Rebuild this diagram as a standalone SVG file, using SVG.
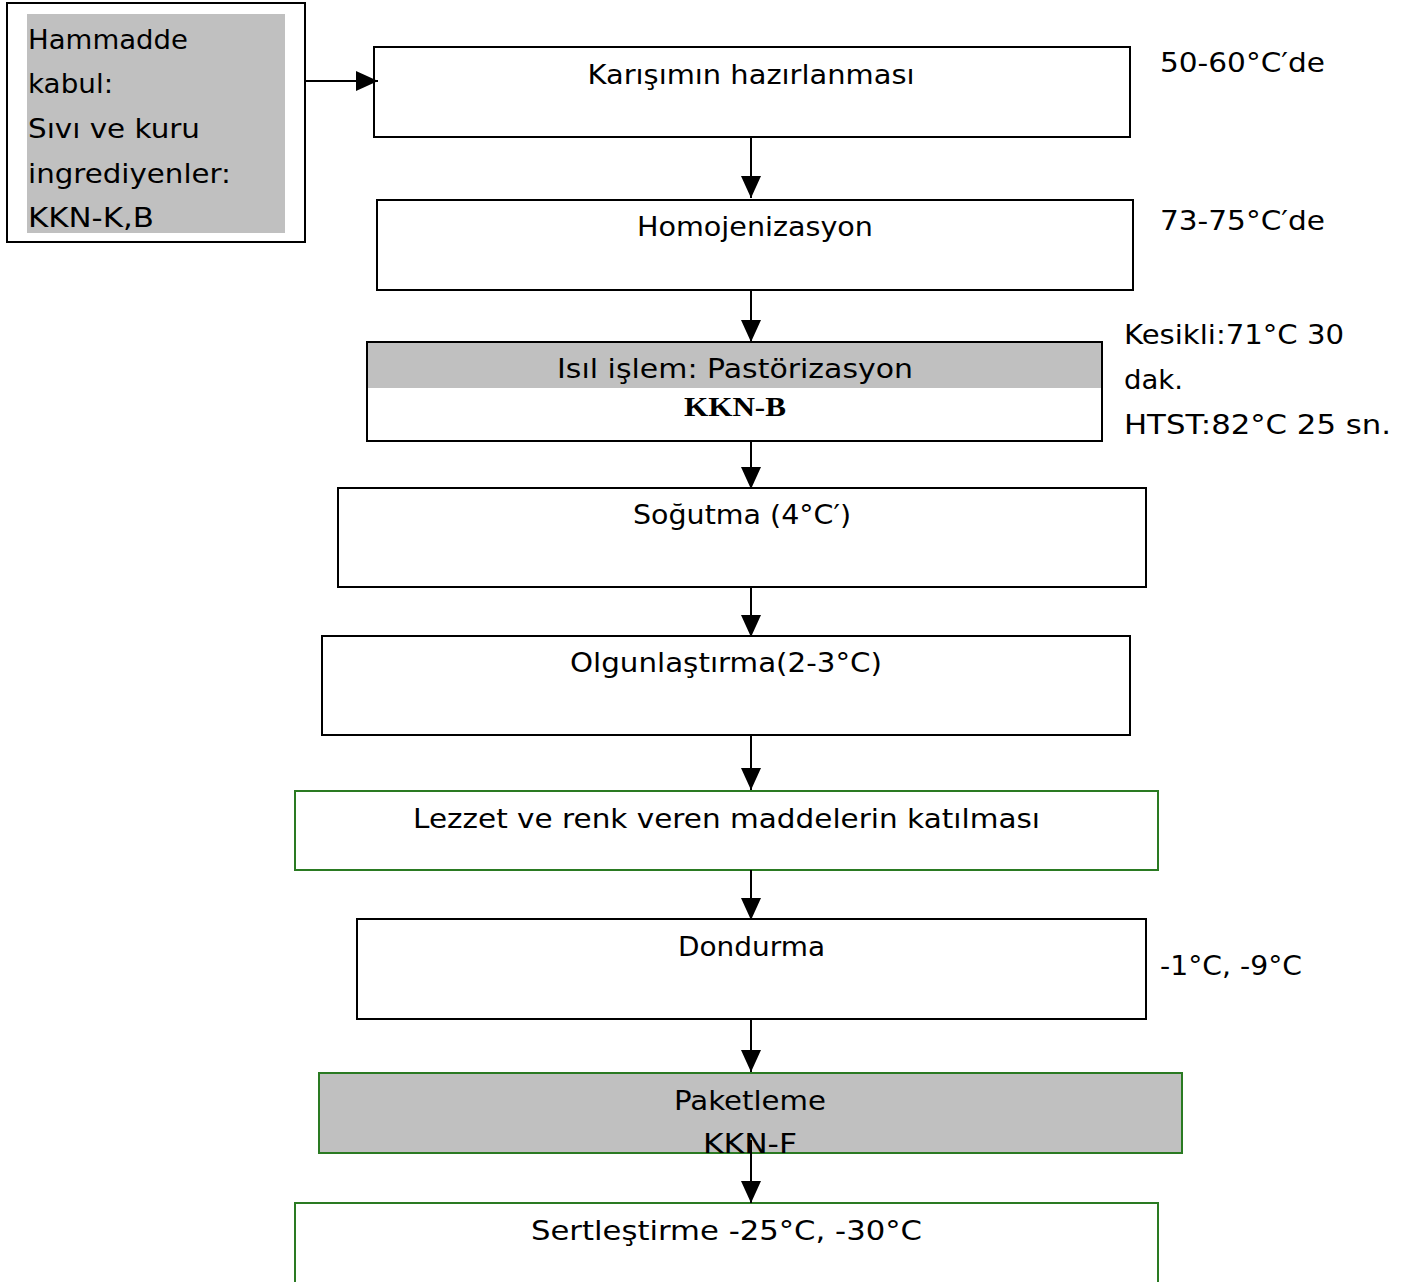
<svg xmlns="http://www.w3.org/2000/svg" width="1409" height="1282" viewBox="0 0 1409 1282">
  <style>
    .box { fill: #ffffff; stroke: #000000; stroke-width: 2; }
    .gbox { fill: #ffffff; stroke: #2a7a22; stroke-width: 2; }
    .shade { fill: #c0c0c0; }
    .t { font-family: "DejaVu Sans", "Liberation Sans", sans-serif; font-size: 27px; fill: #000000; }
    .c { text-anchor: middle; }
    .b { font-family: "Liberation Serif", serif; font-weight: bold; font-size: 27px; fill: #000000; }
    .line { stroke: #000000; stroke-width: 2; fill: none; }
  </style>
  <defs>
    <marker id="arrow" markerUnits="userSpaceOnUse" markerWidth="22" markerHeight="22" viewBox="0 0 22 22" refX="22" refY="11" orient="auto">
      <path d="M0,1 L22,11 L0,21 Z" fill="#000000"/>
    </marker>
  </defs>

  <rect width="1409" height="1282" fill="#ffffff"/>

  <!-- Raw material intake -->
  <g id="node-hammadde">
    <rect class="box" x="7" y="3" width="298" height="239"/>
    <rect class="shade" x="27" y="14" width="258" height="219"/>
    <text class="t" x="28" y="49" textLength="160" lengthAdjust="spacingAndGlyphs">Hammadde</text>
    <text class="t" x="28" y="93" textLength="85" lengthAdjust="spacingAndGlyphs">kabul:</text>
    <text class="t" x="28" y="138" textLength="172" lengthAdjust="spacingAndGlyphs">Sıvı ve kuru</text>
    <text class="t" x="28" y="183" textLength="203" lengthAdjust="spacingAndGlyphs">ingrediyenler:</text>
    <text class="t" x="28" y="227" textLength="126" lengthAdjust="spacingAndGlyphs">KKN-K,B</text>
  </g>

  <g id="node-karisim">
    <rect class="box" x="374" y="47" width="756" height="90"/>
    <text class="t c" x="751" y="84" textLength="327" lengthAdjust="spacingAndGlyphs">Karışımın hazırlanması</text>
  </g>
  <text id="note-karisim" class="t" x="1160" y="72" textLength="165" lengthAdjust="spacingAndGlyphs">50-60°C′de</text>

  <g id="node-homojenizasyon">
    <rect class="box" x="377" y="200" width="756" height="90"/>
    <text class="t c" x="755" y="236" textLength="236" lengthAdjust="spacingAndGlyphs">Homojenizasyon</text>
  </g>
  <text id="note-homojenizasyon" class="t" x="1160" y="230" textLength="165" lengthAdjust="spacingAndGlyphs">73-75°C′de</text>

  <g id="node-pastorizasyon">
    <rect class="box" x="367" y="342" width="735" height="99"/>
    <rect class="shade" x="368" y="343" width="733" height="45"/>
    <text class="t c" x="735" y="378" textLength="356" lengthAdjust="spacingAndGlyphs">Isıl işlem: Pastörizasyon</text>
    <text class="b c" x="735" y="416" textLength="102" lengthAdjust="spacingAndGlyphs">KKN-B</text>
  </g>
  <g id="note-pastorizasyon">
    <text class="t" x="1124" y="344" textLength="220" lengthAdjust="spacingAndGlyphs">Kesikli:71°C 30</text>
    <text class="t" x="1124" y="389" textLength="59" lengthAdjust="spacingAndGlyphs">dak.</text>
    <text class="t" x="1124" y="434" textLength="267" lengthAdjust="spacingAndGlyphs">HTST:82°C 25 sn.</text>
  </g>

  <g id="node-sogutma">
    <rect class="box" x="338" y="488" width="808" height="99"/>
    <text class="t c" x="742" y="524" textLength="218" lengthAdjust="spacingAndGlyphs">Soğutma (4°C′)</text>
  </g>

  <g id="node-olgunlastirma">
    <rect class="box" x="322" y="636" width="808" height="99"/>
    <text class="t c" x="726" y="672" textLength="312" lengthAdjust="spacingAndGlyphs">Olgunlaştırma(2-3°C)</text>
  </g>

  <g id="node-lezzet">
    <rect class="gbox" x="295" y="791" width="863" height="79"/>
    <text class="t c" x="726.5" y="828" textLength="627" lengthAdjust="spacingAndGlyphs">Lezzet ve renk veren maddelerin katılması</text>
  </g>

  <g id="node-dondurma">
    <rect class="box" x="357" y="919" width="789" height="100"/>
    <text class="t c" x="751.5" y="956" textLength="147" lengthAdjust="spacingAndGlyphs">Dondurma</text>
  </g>
  <text id="note-dondurma" class="t" x="1160" y="975" textLength="142" lengthAdjust="spacingAndGlyphs">-1°C, -9°C</text>

  <g id="node-paketleme">
    <rect class="gbox" x="319" y="1073" width="863" height="80" style="fill:#c0c0c0"/>
    <text class="t c" x="750" y="1110" textLength="152" lengthAdjust="spacingAndGlyphs">Paketleme</text>
    <text class="t c" x="750" y="1153" textLength="94" lengthAdjust="spacingAndGlyphs">KKN-F</text>
  </g>

  <g id="node-sertlestirme">
    <rect class="gbox" x="295" y="1203" width="863" height="100"/>
    <text class="t c" x="726.5" y="1240" textLength="391" lengthAdjust="spacingAndGlyphs">Sertleştirme -25°C, -30°C</text>
  </g>

  <!-- Connectors -->
  <g id="connectors">
    <line class="line" x1="305" y1="81" x2="378" y2="81" marker-end="url(#arrow)"/>
    <line class="line" x1="751" y1="137" x2="751" y2="198" marker-end="url(#arrow)"/>
    <line class="line" x1="751" y1="290" x2="751" y2="342" marker-end="url(#arrow)"/>
    <line class="line" x1="751" y1="441" x2="751" y2="489" marker-end="url(#arrow)"/>
    <line class="line" x1="751" y1="587" x2="751" y2="637" marker-end="url(#arrow)"/>
    <line class="line" x1="751" y1="735" x2="751" y2="790" marker-end="url(#arrow)"/>
    <line class="line" x1="751" y1="870" x2="751" y2="920" marker-end="url(#arrow)"/>
    <line class="line" x1="751" y1="1019" x2="751" y2="1072" marker-end="url(#arrow)"/>
    <line class="line" x1="751" y1="1140" x2="751" y2="1203" marker-end="url(#arrow)"/>
  </g>
</svg>
